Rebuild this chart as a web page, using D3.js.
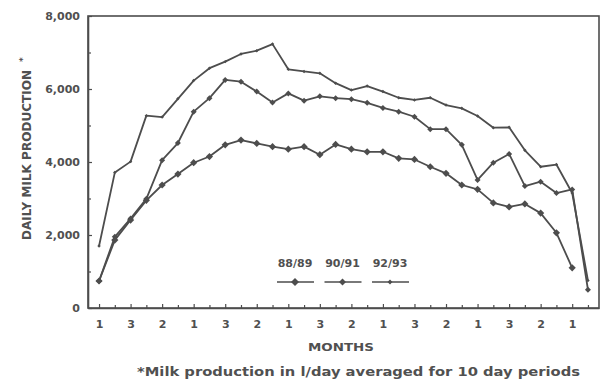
<!DOCTYPE html>
<html>
<head>
<meta charset="utf-8">
<script src="https://cdn.jsdelivr.net/npm/d3@7"></script>
<style>
  body { margin: 0; background: #fff; }
  svg text { font-family: "DejaVu Sans", sans-serif; font-weight: bold; fill: #505050; }
</style>
</head>
<body>
<svg id="chart" width="603" height="384"></svg>
<script>
// 10-day periods, label every second period
const periodLabels = ["1", "3", "2", "1", "3", "2", "1", "3", "2", "1", "3", "2", "1", "3", "2", "1"];
const seasons = ["88/89", "90/91", "92/93"];

const milk8889 = [740, 1860, 2410, 2950, 3370, 3670, 3980, 4150, 4470, 4600, 4510, 4420, 4350, 4420, 4200, 4480,
  4350, 4280, 4280, 4100, 4070, 3870, 3690, 3370, 3250, 2880, 2770, 2850, 2600, 2060, 1100];
const milk9091 = [740, 1950, 2450, 2990, 4050, 4520, 5380, 5750, 6250, 6200, 5930, 5630, 5880, 5680, 5800, 5750,
  5720, 5620, 5480, 5380, 5240, 4900, 4900, 4470, 3510, 3980, 4220, 3340, 3460, 3150, 3250, 500];
const milk9293 = [1700, 3710, 4010, 5270, 5230, 5730, 6230, 6570, 6750, 6960, 7050, 7230, 6540, 6480, 6430, 6160,
  5970, 6080, 5930, 5760, 5700, 5760, 5560, 5470, 5260, 4940, 4950, 4320, 3870, 3930, 3150, 750];

const yMajor = [0, 2000, 4000, 6000, 8000];
const yMinor = [1000, 3000, 5000, 7000];

const ink = "#4d4d4d";
const svg = d3.select("#chart");

const x = d3.scaleLinear().domain([-0.7, 31.7]).range([88, 599]);
const y = d3.scaleLinear().domain([0, 8000]).range([308, 16]);

// frame
svg.append("rect")
  .attr("x", x.range()[0]).attr("y", y.range()[1])
  .attr("width", x.range()[1] - x.range()[0])
  .attr("height", y.range()[0] - y.range()[1])
  .attr("fill", "none").attr("stroke", ink).attr("stroke-width", 1.6);

// y axis
const yAxis = svg.append("g").attr("transform", `translate(${x.range()[0]},0)`)
  .call(d3.axisLeft(y).tickValues(yMajor).tickFormat(d3.format(",")).tickSizeInner(-4).tickSizeOuter(0).tickPadding(8));
svg.append("g").attr("transform", `translate(${x.range()[0]},0)`)
  .call(d3.axisLeft(y).tickValues(yMinor).tickFormat("").tickSizeInner(-3).tickSizeOuter(0))
  .call(g => g.select(".domain").remove());

// x axis
const periods = d3.range(0, 32);
const xAxis = svg.append("g").attr("transform", `translate(0,${y.range()[0]})`)
  .call(d3.axisBottom(x).tickValues(periods.filter(i => i % 2 === 0))
    .tickFormat((d, i) => periodLabels[i]).tickSizeInner(-4).tickSizeOuter(0).tickPadding(12));
svg.append("g").attr("transform", `translate(0,${y.range()[0]})`)
  .call(d3.axisBottom(x).tickValues(periods.filter(i => i % 2 === 1)).tickFormat("").tickSizeInner(-3).tickSizeOuter(0))
  .call(g => g.select(".domain").remove());

svg.selectAll(".domain").attr("stroke", ink).attr("stroke-width", 1.6);
svg.selectAll(".tick line").attr("stroke", ink).attr("stroke-width", 1.2);
svg.selectAll(".tick text").attr("font-size", 11).attr("fill", "#505050")
  .attr("font-family", "DejaVu Sans").attr("font-weight", "bold");

// series
const seriesList = [
  { name: seasons[0], values: milk8889, size: 26 },
  { name: seasons[1], values: milk9091, size: 18 },
  { name: seasons[2], values: milk9293, size: 6 }
];

const line = d3.line().x((d, i) => x(i)).y(d => y(d));

seriesList.forEach(s => {
  const g = svg.append("g");
  g.append("path")
    .datum(s.values)
    .attr("d", line)
    .attr("fill", "none").attr("stroke", ink).attr("stroke-width", 1.8)
    .attr("stroke-linejoin", "round");
  g.selectAll("path.mark")
    .data(s.values)
    .enter().append("path")
    .attr("class", "mark")
    .attr("d", d3.symbol(d3.symbolSquare, s.size))
    .attr("transform", (d, i) => `translate(${x(i)},${y(d)}) rotate(45)`)
    .attr("fill", ink);
});

// legend
const legend = svg.append("g").attr("transform", "translate(277,263)");
seriesList.forEach((s, i) => {
  const lg = legend.append("g").attr("transform", `translate(${i * 47.5},0)`);
  lg.append("text").attr("x", 18).attr("y", 4).attr("text-anchor", "middle").attr("font-size", 11).text(s.name);
  lg.append("line").attr("x1", 0).attr("x2", 37).attr("y1", 19).attr("y2", 19)
    .attr("stroke", ink).attr("stroke-width", 1.6);
  lg.append("path").attr("d", d3.symbol(d3.symbolSquare, s.size + 6))
    .attr("transform", "translate(18,19) rotate(45)").attr("fill", ink);
});

// titles
svg.append("text")
  .attr("transform", "translate(31,240) rotate(-90)")
  .attr("font-size", 11.5)
  .attr("textLength", 170).attr("lengthAdjust", "spacingAndGlyphs")
  .text("DAILY MILK PRODUCTION");
svg.append("text")
  .attr("transform", "translate(26,62) rotate(-90)")
  .attr("font-size", 9)
  .text("*");

svg.append("text")
  .attr("x", 341).attr("y", 351).attr("text-anchor", "middle")
  .attr("font-size", 11).attr("textLength", 66).attr("lengthAdjust", "spacingAndGlyphs")
  .text("MONTHS");

svg.append("text")
  .attr("x", 137).attr("y", 376)
  .attr("font-size", 12).attr("textLength", 443).attr("lengthAdjust", "spacingAndGlyphs")
  .text("*Milk production in l/day averaged for 10 day periods");
</script>
</body>
</html>
